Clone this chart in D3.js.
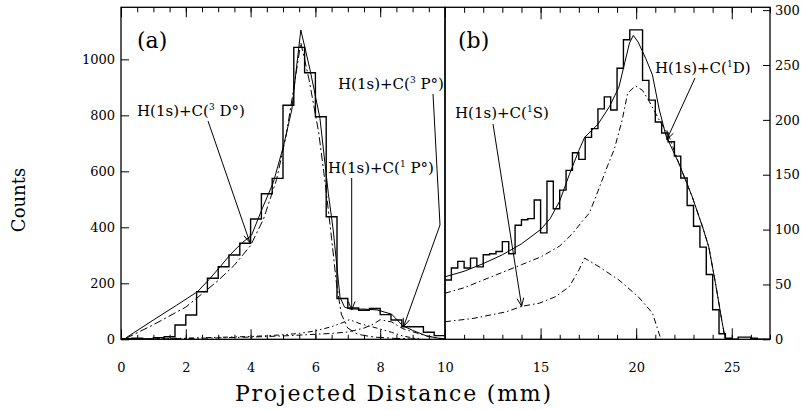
<!DOCTYPE html>
<html><head><meta charset="utf-8">
<script src="https://cdn.jsdelivr.net/npm/d3@7"></script>
<style>
body{margin:0;background:#fff}
text{font-family:'DejaVu Serif',serif;fill:#000}
</style></head>
<body><svg id="c" width="801" height="410"></svg>
<script>
// ---------------- DATA ----------------
// Panel (a): histogram, bins of 1/3 mm starting at 0 mm
const histAStart = 0, histAStep = 1/3;
const histA = [2,4,1,6,9,51,87,170,218,259,301,343,430,520,575,836,1043,952,795,438,146,112,104,110,88,69,45,45,25,13];
// Panel (a) fit curves [mm, counts]
const fitATotal = [[0.15,5],[1,69],[1.72,122],[2.36,170],[2.72,214],[3.06,259],[3.36,301],[3.72,343],[4.03,372],[4.37,470],[4.7,560],[5.01,688],[5.27,819],[5.42,974],[5.55,1105],[5.83,965],[6.14,790],[6.4,520],[6.55,390],[6.76,150],[6.9,115],[7.07,108],[7.5,108],[7.9,105],[8.35,90],[8.7,48],[9.0,32],[9.43,12],[9.8,4],[10,2]];
const fitA3D = [[0.15,3],[1,52],[2,115],[3,210],[3.5,265],[4,335],[4.4,430],[4.8,570],[5.1,730],[5.35,910],[5.55,1060],[5.8,930],[6.1,740],[6.3,560],[6.5,360],[6.65,200],[6.8,90],[7.0,40],[7.3,18],[7.8,8],[8.5,3],[9.2,0]];
const fitA1P = [[0,0],[1,2],[2,4],[3,7],[4,10],[5,16],[5.5,21],[6,30],[6.5,45],[6.85,60],[7.05,70],[7.4,55],[7.9,40],[8.35,25],[8.7,12],[9.0,5],[9.3,0]];
const fitA3P = [[0,0],[1,1],[2,3],[3,5],[4,8],[5,12],[6,18],[6.5,21],[7,26],[7.5,40],[7.8,55],[8.0,70],[8.35,62],[8.7,38],[9.0,27],[9.43,12],[9.8,3],[10,0]];
// Panel (b): histogram, bins of 1/3 mm starting at 10 mm
const histBStart = 10, histBStep = 1/3;
const histB = [54,65,71,65,74,66,77,78,80,89,78,104,109,110,127,97,144,119,136,154,170,164,184,192,210,221,209,247,273,282,282,236,218,198,188,180,167,147,122,103,84,59,27,5,1,0,2,2,1,0,0];
const fitBTotal = [[10,57],[11,62],[12,69],[13,77],[14,87],[15,100],[15.5,110],[16,126],[16.5,150],[17,172],[17.3,184],[18,196],[18.6,212],[19.1,230],[19.4,252],[19.65,270],[19.85,277],[20.1,271],[20.5,256],[20.85,241],[21.2,210],[21.55,186],[22.24,160],[22.93,130],[23.5,101],[23.8,84],[24.15,51],[24.5,15],[24.65,2]];
const fitB1D = [[10,42],[11,47],[12,54],[13,61],[14,68],[15,75],[16,85],[16.7,97],[17.2,108],[17.55,115],[18,135],[18.5,158],[18.85,173],[19.27,200],[19.55,224],[19.95,231],[20.33,227],[20.68,217],[21.2,200],[21.7,186],[22.24,160],[22.93,130],[23.5,101],[23.8,84],[24.15,51],[24.5,15],[24.65,0]];
const fitB1S = [[10,16],[11.47,19],[13.2,25],[14,30],[14.95,33],[15.8,39],[16.5,48],[17,63],[17.3,74],[18.07,66],[19.1,54],[20.1,39],[20.85,24],[21.2,5],[21.3,0]];
// Ticks
const xTicksA = [0,2,4,6,8,10];
const xMinorA = d3.range(0,10.01,0.5);
const xTicksB = [15,20,25];
const xMinorB = d3.range(10,27.01,1);
const yTicksA = [0,200,400,600,800,1000];
const yTicksB = [0,50,100,150,200,250,300];

// ---------------- SCALES ----------------
const FONT = 'DejaVu Serif';
const svg = d3.select('#c');
const yTop = 7.3, yBot = 339.3;
const xA = d3.scaleLinear().domain([0,10]).range([121,445]);
const xB = d3.scaleLinear().domain([10,27]).range([445,770]);
const yA = d3.scaleLinear().domain([0,1186]).range([yBot,yTop]);
const yB = d3.scaleLinear().domain([0,302.6]).range([yBot,yTop]);

const defs = svg.append('defs');
defs.append('clipPath').attr('id','ca').append('rect').attr('x',121).attr('y',yTop).attr('width',324).attr('height',yBot-yTop);
defs.append('clipPath').attr('id','cb').append('rect').attr('x',445).attr('y',yTop).attr('width',325).attr('height',yBot-yTop);

function histPts(vals,start,step){
  const p = vals.map((v,i)=>[start+i*step,v]);
  p.push([start+vals.length*step, vals[vals.length-1]]);
  return p;
}
function drawPanel(clip,x,y,hist,start,step,curves){
  const g = svg.append('g').attr('clip-path',`url(#${clip})`);
  const line = d3.line().x(d=>x(d[0])).y(d=>y(d[1]));
  g.append('path').attr('d', d3.line().x(d=>x(d[0])).y(d=>y(d[1])).curve(d3.curveStepAfter)(histPts(hist,start,step)))
    .attr('fill','none').attr('stroke','#000').attr('stroke-width',1.4);
  curves.forEach(c=>{
    g.append('path').attr('d',line(c.data)).attr('fill','none').attr('stroke','#000')
      .attr('stroke-width',c.w||1).attr('stroke-dasharray',c.dash||null);
  });
}
drawPanel('ca',xA,yA,histA,histAStart,histAStep,[
  {data:fitATotal,w:1},
  {data:fitA3D,dash:'8,3,2,3'},
  {data:fitA1P,dash:'5,3,1.5,3,1.5,3'},
  {data:fitA3P,dash:'6,3,1.5,3'}
]);
drawPanel('cb',xB,yB,histB,histBStart,histBStep,[
  {data:fitBTotal,w:1},
  {data:fitB1D,dash:'6,3,1.5,3'},
  {data:fitB1S,dash:'6,3,1.5,3'}
]);

// ---------------- AXES ----------------
function styleAxis(g){
  g.attr('font-family',FONT);
  g.select('.domain').remove();
  g.selectAll('line').attr('stroke','#000').attr('stroke-width',1);
  g.selectAll('text').attr('font-family',FONT).attr('font-size',13).attr('fill','#000');
}
svg.append('g').attr('transform',`translate(0,${yBot})`).call(d3.axisBottom(xA).tickValues(xMinorA).tickSize(-4.5).tickFormat('')).call(styleAxis);
svg.append('g').attr('transform',`translate(0,${yBot})`).call(d3.axisBottom(xA).tickValues(xTicksA).tickSize(-10).tickPadding(23).tickFormat(d3.format('d'))).call(styleAxis);
svg.append('g').attr('transform',`translate(0,${yTop})`).call(d3.axisTop(xA).tickValues(xMinorA).tickSize(-5).tickFormat('')).call(styleAxis);
svg.append('g').attr('transform',`translate(0,${yTop})`).call(d3.axisTop(xA).tickValues(xTicksA).tickSize(-10).tickFormat('')).call(styleAxis);
svg.append('g').attr('transform',`translate(0,${yBot})`).call(d3.axisBottom(xB).tickValues(xMinorB).tickSize(-4.5).tickFormat('')).call(styleAxis);
svg.append('g').attr('transform',`translate(0,${yBot})`).call(d3.axisBottom(xB).tickValues(xTicksB).tickSize(-11).tickPadding(23).tickFormat(d3.format('d'))).call(styleAxis);
svg.append('g').attr('transform',`translate(0,${yTop})`).call(d3.axisTop(xB).tickValues(xMinorB).tickSize(-5.5).tickFormat('')).call(styleAxis);
svg.append('g').attr('transform',`translate(0,${yTop})`).call(d3.axisTop(xB).tickValues(xTicksB).tickSize(-12).tickFormat('')).call(styleAxis);
svg.append('g').attr('transform','translate(121,0)').call(d3.axisLeft(yA).tickValues(yTicksA).tickSize(-8).tickPadding(6).tickFormat(d3.format('d'))).call(styleAxis);
svg.append('g').attr('transform','translate(770,0)').call(d3.axisRight(yB).tickValues(yTicksB).tickSize(-7).tickPadding(5).tickFormat(d3.format('d'))).call(styleAxis);

svg.append('rect').attr('x',121).attr('y',yTop).attr('width',324).attr('height',yBot-yTop).attr('fill','none').attr('stroke','#000').attr('stroke-width',1.3);
svg.append('rect').attr('x',445).attr('y',yTop).attr('width',325).attr('height',yBot-yTop).attr('fill','none').attr('stroke','#000').attr('stroke-width',1.3);

svg.append('text').attr('x',393).attr('y',401).attr('text-anchor','middle').attr('font-family',FONT).attr('font-size',22)
  .attr('textLength',316).attr('lengthAdjust','spacing').text('Projected Distance (mm)');
svg.append('text').attr('transform','translate(25,200) rotate(-90)').attr('text-anchor','middle').attr('font-family',FONT).attr('font-size',18)
  .text('Counts');

svg.append('text').attr('x',137).attr('y',48).attr('font-family',FONT).attr('font-size',22).text('(a)');
svg.append('text').attr('x',458).attr('y',48).attr('font-family',FONT).attr('font-size',22).text('(b)');

// ---------------- ANNOTATIONS ----------------
function label(x,y,pre,sup,post){
  const t = svg.append('text').attr('x',x).attr('y',y).attr('font-family',FONT).attr('font-size',15);
  t.append('tspan').text(pre);
  t.append('tspan').attr('font-size',9).attr('dy',-6).text(sup);
  t.append('tspan').attr('dy',6).text(post);
}
function arrow(pts){
  svg.append('path').attr('d',d3.line()(pts)).attr('fill','none').attr('stroke','#000').attr('stroke-width',1);
  const T = pts[pts.length-1], P = pts[pts.length-2];
  const a = Math.atan2(T[1]-P[1],T[0]-P[0]);
  const L = 9, s = 0.38;
  const h = [[T[0]-L*Math.cos(a-s),T[1]-L*Math.sin(a-s)],T,[T[0]-L*Math.cos(a+s),T[1]-L*Math.sin(a+s)]];
  svg.append('path').attr('d',d3.line()(h)).attr('fill','none').attr('stroke','#000').attr('stroke-width',1);
}
label(137,116,'H(1s)+C(','3',' D°)');
arrow([[208,121],[xA(3.98),yA(345)]]);
label(338,89,'H(1s)+C(','3',' P°)');
arrow([[433,94],[440,225],[xA(8.72),yA(45)]]);
label(328,173,'H(1s)+C(','1',' P°)');
arrow([[xA(7.12),178],[xA(7.12),yA(105)]]);
label(455,118,'H(1s)+C(','1','S)');
arrow([[493,124],[xB(14.01),yB(30)]]);
label(655,73,'H(1s)+C(','1','D)');
arrow([[695,78],[xB(21.6),yB(182)]]);
</script></body></html>
